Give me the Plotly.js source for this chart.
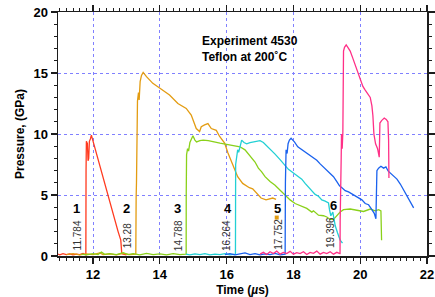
<!DOCTYPE html>
<html>
<head>
<meta charset="utf-8">
<script src="https://cdn.plot.ly/plotly-3.0.1.min.js"></script>
<style>html,body{margin:0;padding:0;background:#fff;}#chart{width:435px;height:297px;}</style>
</head>
<body>
<div id="chart"></div>
<script>
// ---- Data (time in µs, pressure in GPa) ----
const redX = [10.95,11.0,11.1,11.2,11.3,11.4,11.5,11.6,11.7,11.78,11.784,11.79,11.80,11.83,11.85,11.87,11.89,11.92,11.95,11.98,12.05,12.15,12.25,12.35,12.45,12.55,12.65,12.75,12.83,12.86,12.9,13.0];
const redY = [0.15,0.1,0.2,0.12,0.18,0.1,0.16,0.12,0.2,0.1,0.1,7.0,9.4,9.2,7.8,8.0,9.4,9.6,9.9,9.6,8.9,7.8,6.8,5.8,5.0,4.0,3.0,2.0,1.3,0.2,0.15,0.1];

const orangeX = [11.2,11.4,11.6,11.8,12.0,12.2,12.3,12.5,12.7,12.9,13.1,13.27,13.28,13.29,13.30,13.33,13.36,13.38,13.41,13.45,13.50,13.6,13.79,13.95,14.09,14.29,14.54,14.79,14.94,15.04,15.09,15.19,15.24,15.34,15.44,15.54,15.69,15.79,15.94,16.04,16.19,16.33,16.48,16.59,16.68,16.78,16.93,17.03,17.18,17.30,17.38,17.48];
const orangeY = [0.12,0.2,0.1,0.18,0.12,0.25,0.12,0.18,0.1,0.22,0.12,0.15,0.15,4.8,6.0,12.7,13.4,12.8,14.3,14.8,15.05,14.7,14.15,13.85,13.6,13.2,12.5,12.1,11.55,10.9,10.45,10.2,10.6,10.75,10.85,10.45,10.3,9.8,9.25,8.45,7.4,6.5,5.95,5.75,5.6,5.5,5.0,4.75,4.6,4.7,4.75,4.65];
const orangeDotX = [17.50];
const orangeDotY = [3.15];

const greenX = [11.65,11.8,12.0,12.15,12.25,12.35,12.5,12.7,12.9,13.05,13.2,13.4,13.6,13.8,14.0,14.2,14.4,14.6,14.78,14.788,14.79,14.80,14.83,14.86,14.90,14.99,15.05,15.10,15.2,15.3,15.45,15.6,15.8,16.0,16.2,16.4,16.55,16.7,16.85,16.95,17.05,17.15,17.3,17.45,17.6,17.75,17.9,18.05,18.2,18.4,18.55,18.6,18.75,18.9,19.0,19.1,19.2,19.3,19.4,19.5,19.7,19.9,20.1,20.3,20.45,20.55,20.62,20.64];
const greenY = [0.15,0.1,0.2,0.12,0.32,0.14,0.2,0.12,0.28,0.12,0.2,0.1,0.22,0.12,0.18,0.1,0.2,0.12,0.15,0.15,5.0,8.3,8.8,8.6,9.3,9.85,9.5,9.35,9.45,9.5,9.45,9.35,9.25,9.15,9.05,8.95,8.7,8.2,7.7,7.2,6.9,6.5,6.1,5.8,5.4,5.0,4.6,4.3,4.1,3.9,3.6,3.7,3.35,3.3,3.2,3.0,3.0,3.3,3.6,3.8,3.85,3.75,3.65,3.85,3.7,3.8,3.7,1.3];

const cyanX = [14.78,14.9,15.05,15.2,15.35,15.5,15.65,15.8,15.95,16.1,16.25,16.264,16.27,16.30,16.33,16.36,16.42,16.45,16.52,16.6,16.7,16.8,16.9,17.0,17.1,17.2,17.3,17.45,17.6,17.7,17.85,18.0,18.1,18.25,18.35,18.45,18.55,18.65,18.75,18.85,18.95,19.05,19.08,19.12,19.18,19.25,19.32,19.40,19.47];
const cyanY = [0.15,0.1,0.18,0.12,0.2,0.1,0.16,0.12,0.2,0.1,0.15,0.15,7.5,8.4,8.7,8.5,9.3,9.5,9.3,9.2,9.3,9.35,9.4,9.45,9.3,9.05,8.8,8.35,7.9,7.55,7.1,6.8,6.6,6.3,5.95,5.65,5.35,5.05,4.9,4.6,4.5,4.35,3.8,3.3,3.6,2.5,1.9,1.3,1.05];

const blueX = [15.95,16.1,16.25,16.4,16.55,16.7,16.85,17.0,17.15,17.3,17.45,17.6,17.74,17.752,17.76,17.78,17.81,17.84,17.88,17.93,17.98,18.03,18.13,18.28,18.4,18.5,18.6,18.7,18.8,18.9,19.0,19.1,19.2,19.3,19.38,19.47,19.55,19.65,19.75,19.85,19.95,20.05,20.15,20.25,20.35,20.42,20.47,20.48,20.50,20.55,20.62,20.7,20.77,20.84,20.92,21.0,21.1,21.2,21.3,21.4,21.5,21.6];
const blueY = [0.12,0.2,0.1,0.18,0.25,0.12,0.2,0.1,0.18,0.12,0.22,0.1,0.15,0.15,6.0,8.7,8.4,9.2,9.5,9.65,9.5,9.35,8.95,8.65,8.4,8.25,8.0,7.85,7.55,7.3,7.0,6.75,6.5,6.1,5.75,5.55,5.35,5.25,5.1,4.95,4.75,4.6,4.3,4.2,3.8,3.5,3.05,5.0,7.0,7.2,7.35,7.2,7.3,6.95,6.75,6.5,6.3,5.9,5.4,4.95,4.45,3.95];

const pinkX = [17.0,17.1,17.2,17.3,17.4,17.5,17.6,17.7,17.8,17.9,18.0,18.1,18.2,18.3,18.4,18.5,18.6,18.7,18.8,18.9,19.0,19.1,19.2,19.3,19.39,19.396,19.40,19.41,19.43,19.44,19.46,19.48,19.50,19.53,19.58,19.63,19.70,19.78,19.85,19.93,20.00,20.08,20.15,20.22,20.30,20.35,20.38,20.41,20.46,20.52,20.55,20.57,20.59,20.64,20.72,20.78,20.83,20.85,20.86];
const pinkY = [0.15,0.3,0.12,0.35,0.2,0.4,0.15,0.3,0.2,0.38,0.15,0.28,0.2,0.35,0.12,0.3,0.22,0.4,0.15,0.3,0.2,0.35,0.15,0.3,0.2,0.2,3.0,7.0,8.0,10.0,8.8,10.1,16.8,17.1,17.3,17.1,16.8,16.2,15.7,15.1,14.6,13.9,13.6,13.3,13.0,12.3,11.5,10.0,9.2,8.8,8.5,8.1,10.9,11.1,11.3,11.2,11.0,9.5,6.4];

const shotLabels = ["1","2","3","4","5","6"];
const shotLabelX = [11.50,13.00,14.54,16.04,17.51,19.20];
const shotLabelY = [3.93,3.93,3.93,3.93,3.93,4.1];
const arrivalText = ["11.784","13.28","14.788","16.264","17.752","19.396"];
const arrivalX = [11.53,13.03,14.54,15.98,17.53,19.11];
const arrivalY = [1.72,1.65,1.7,1.72,1.8,1.93];

// ---- Styles ----
const FONT = "Arial";
const AXC = "#1c1c1c";
const colors = {red:"#ff3a1f", orange:"#e39c12", green:"#8ad11a", cyan:"#22d0d4", blue:"#1a62ee", pink:"#ff3087"};
const lw = 1.3;

function line(x, y, c) {
  return {x:x, y:y, type:"scatter", mode:"lines", line:{color:c, width:lw}, showlegend:false};
}

const traces = [
  line(redX, redY, colors.red),
  line(orangeX, orangeY, colors.orange),
  {x:orangeDotX, y:orangeDotY, type:"scatter", mode:"markers", marker:{symbol:"square", size:4, color:colors.orange}, showlegend:false},
  line(greenX, greenY, colors.green),
  line(cyanX, cyanY, colors.cyan),
  line(blueX, blueY, colors.blue),
  line(pinkX, pinkY, colors.pink)
];

const annotations = [];
shotLabels.forEach((t, i) => {
  annotations.push({x:shotLabelX[i], y:shotLabelY[i], xref:"x", yref:"y", text:"<b>"+t+"</b>", showarrow:false,
    font:{family:FONT, size:13, color:"#000"}});
});
arrivalText.forEach((t, i) => {
  annotations.push({x:arrivalX[i], y:arrivalY[i], xref:"x", yref:"y", text:t, showarrow:false, textangle:-90,
    font:{family:FONT, size:10, color:"#333"}});
});
annotations.push({x:15.19, y:18.4, xref:"x", yref:"y", xanchor:"left", yanchor:"top", align:"left", showarrow:false,
  text:"<b>Experiment 4530<br>Teflon at 200˚C</b>", font:{family:FONT, size:12, color:"#000"}});

function axisStyle(dtick, minorDtick) {
  return {
    showline:true, linewidth:1.5, linecolor:AXC, mirror:"ticks",
    ticks:"outside", ticklen:6, tickwidth:1.2, tickcolor:AXC, dtick:dtick, tick0:0,
    minor:{ticks:"outside", dtick:minorDtick, ticklen:3, tickwidth:1, tickcolor:AXC, showgrid:false},
    showgrid:true, gridcolor:"#8080ff", griddash:"dot", gridwidth:1, zeroline:false,
    tickfont:{family:FONT, size:13, weight:"bold", color:"#000"}
  };
}

const layout = {
  width:435, height:297,
  margin:{l:58, r:8, t:12, b:41},
  xaxis:Object.assign(axisStyle(2, 0.2), {range:[10.95,22],
    title:{text:"<b>Time (<i>µ</i>s)</b>", font:{family:FONT, size:12, color:"#000"}}}),
  yaxis:Object.assign(axisStyle(5, 1), {range:[0,20],
    title:{text:"<b>Pressure, (GPa)</b>", font:{family:FONT, size:12, color:"#000"}}}),
  annotations:annotations,
  showlegend:false
};

Plotly.newPlot("chart", traces, layout, {staticPlot:true}).then(function (gd) {
  // re-apply axis styling once everything is in place
  return Plotly.relayout(gd, {
    "xaxis.showline":true, "xaxis.mirror":"ticks", "xaxis.ticks":"outside", "xaxis.linecolor":AXC, "xaxis.tickcolor":AXC,
    "yaxis.showline":true, "yaxis.mirror":"ticks", "yaxis.ticks":"outside", "yaxis.linecolor":AXC, "yaxis.tickcolor":AXC
  });
});
</script>
</body>
</html>
